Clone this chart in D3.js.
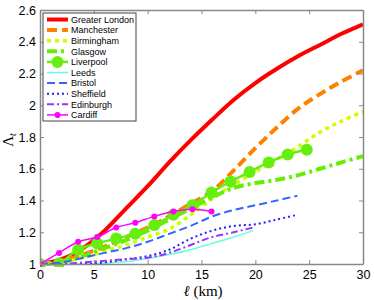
<!DOCTYPE html>
<html>
<head>
<meta charset="utf-8">
<script src="https://cdn.jsdelivr.net/npm/d3@7"></script>
<style>
  body { margin: 0; background: #fff; }
  svg { display: block; }
  text { font-family: "Liberation Sans", Arial, sans-serif; }
</style>
</head>
<body>
<div id="chart"></div>
<script>
var W = 374, H = 300;
var M = {left: 40, right: 11, top: 10, bottom: 36};

// values
var cities = ["Greater London", "Manchester", "Birmingham", "Glasgow", "Liverpool",
              "Leeds", "Bristol", "Sheffield", "Edinburgh", "Cardiff"];
var kmEven = [0, 2, 4, 6, 8, 10, 12, 14, 16, 18, 20, 22, 24, 26, 28, 30];
var kmMarked = [0, 1.77, 3.54, 5.31, 7.08, 8.85, 10.62, 12.39, 14.16, 15.93, 17.7, 19.47, 21.24, 23.01, 24.78];
var kmShort = [0, 2, 4, 6, 8, 10, 12, 14, 16, 18, 19.8];
var kmMid = [0, 2, 4, 6, 8, 10, 12, 14, 16, 18, 20, 22, 23.9];

var london     = [1.0, 1.03, 1.10, 1.21, 1.35, 1.49, 1.64, 1.78, 1.91, 2.035, 2.14, 2.23, 2.31, 2.38, 2.45, 2.51];
var manchester = [1.0, 1.02, 1.06, 1.11, 1.17, 1.23, 1.30, 1.38, 1.46, 1.59, 1.73, 1.86, 1.98, 2.07, 2.15, 2.22];
var birmingham = [1.0, 1.01, 1.04, 1.08, 1.12, 1.17, 1.22, 1.31, 1.41, 1.50, 1.58, 1.66, 1.74, 1.83, 1.90, 1.96];
var glasgow    = [1.0, 1.01, 1.05, 1.10, 1.15, 1.21, 1.28, 1.35, 1.42, 1.48, 1.51, 1.53, 1.56, 1.60, 1.64, 1.68];
var liverpool  = [1.0, 1.005, 1.09, 1.13, 1.16, 1.19, 1.245, 1.31, 1.37, 1.45, 1.52, 1.58, 1.64, 1.69, 1.72];
var leeds      = [1.0, 1.0, 1.0, 1.005, 1.015, 1.035, 1.06, 1.09, 1.13, 1.17, 1.21];
var bristol    = [1.0, 1.01, 1.04, 1.07, 1.10, 1.14, 1.19, 1.24, 1.30, 1.34, 1.37, 1.40, 1.43];
var sheffield  = [1.0, 1.0, 1.0, 1.01, 1.03, 1.05, 1.09, 1.16, 1.21, 1.24, 1.25, 1.28, 1.31];
var edinburgh  = [1.0, 1.0, 1.01, 1.02, 1.03, 1.04, 1.07, 1.12, 1.17, 1.20, 1.23];
var cardiff    = [1.0, 1.07, 1.14, 1.17, 1.23, 1.26, 1.30, 1.33, 1.345, 1.33];

var xTicks = [0, 5, 10, 15, 20, 25, 30];
var yTicks = [1, 1.2, 1.4, 1.6, 1.8, 2, 2.2, 2.4, 2.6];

var series = [
  {km: kmEven, v: london,     color: "#ff0000", width: 4,   dash: null},
  {km: kmEven, v: manchester, color: "#ff8000", width: 4,   dash: "10,5"},
  {km: kmEven, v: birmingham, color: "#ccff00", width: 3.5, dash: "4,4"},
  {km: kmEven, v: glasgow,    color: "#66ee00", width: 4,   dash: "10,4,3,4"},
  {km: kmMarked, v: liverpool, color: "#66ee11", width: 2.5, dash: null, marker: 6},
  {km: kmShort, v: leeds,     color: "#66ffdd", width: 1.5, dash: null},
  {km: kmMid,   v: bristol,   color: "#3366ff", width: 2,   dash: "8,4"},
  {km: kmMid,   v: sheffield, color: "#2222ff", width: 2,   dash: "2,3"},
  {km: kmShort, v: edinburgh, color: "#9933ff", width: 2,   dash: "7,3,2,3"},
  {km: kmMarked.slice(0, 10), v: cardiff, color: "#ff00ff", width: 1.5, dash: null, marker: 3}
];

var svg = d3.select("#chart").append("svg")
  .attr("width", W).attr("height", H);

var x = d3.scaleLinear().domain([0, 30]).range([M.left, W - M.right]);
var y = d3.scaleLinear().domain([1, 2.6]).range([H - M.bottom, M.top]);

svg.append("defs").append("clipPath").attr("id", "plot")
  .append("rect").attr("x", M.left).attr("y", M.top - 3)
  .attr("width", W - M.right - M.left + 3).attr("height", H - M.bottom - M.top + 6);

var line = d3.line()
  .x(function(d){ return x(d[0]); })
  .y(function(d){ return y(d[1]); })
  .curve(d3.curveCatmullRom.alpha(0.5));

var plot = svg.append("g").attr("clip-path", "url(#plot)");

series.forEach(function(s){
  var pts = s.km.map(function(k, i){ return [k, s.v[i]]; });
  plot.append("path")
    .datum(pts)
    .attr("d", line)
    .attr("fill", "none")
    .attr("stroke", s.color)
    .attr("stroke-width", s.width)
    .attr("stroke-dasharray", s.dash)
    .attr("stroke-linejoin", "round");
  if (s.marker) {
    plot.selectAll(null).data(pts).enter().append("circle")
      .attr("cx", function(d){ return x(d[0]); })
      .attr("cy", function(d){ return y(d[1]); })
      .attr("r", s.marker)
      .attr("fill", s.color);
  }
});

// axes box with inward ticks
var axisColor = "#888";
var xAxis = svg.append("g").attr("transform", "translate(0," + (H - M.bottom) + ")")
  .call(d3.axisBottom(x).tickValues(xTicks).tickSizeInner(-4).tickSizeOuter(0).tickPadding(6));
var yAxis = svg.append("g").attr("transform", "translate(" + M.left + ",0)")
  .call(d3.axisLeft(y).tickValues(yTicks).tickSizeInner(-4).tickSizeOuter(0).tickPadding(4)
    .tickFormat(function(d){ return d3.format("")(+d.toFixed(1)); }));
var xTop = svg.append("g").attr("transform", "translate(0," + M.top + ")")
  .call(d3.axisTop(x).tickValues(xTicks).tickSizeInner(-4).tickSizeOuter(0).tickFormat(""));
var yRight = svg.append("g").attr("transform", "translate(" + (W - M.right) + ",0)")
  .call(d3.axisRight(y).tickValues(yTicks).tickSizeInner(-4).tickSizeOuter(0).tickFormat(""));

[xAxis, yAxis, xTop, yRight].forEach(function(g){
  g.selectAll(".domain").attr("stroke", axisColor).attr("stroke-width", 1.5);
  g.selectAll(".tick line").attr("stroke", axisColor);
  g.selectAll("text").attr("fill", "#000").style("font-size", "12.5px")
    .style("font-family", "'Liberation Sans', Arial, sans-serif");
});

// axis labels
svg.append("text")
  .attr("x", 203).attr("y", 296)
  .attr("text-anchor", "middle")
  .style("font-family", "'Liberation Serif', 'DejaVu Serif', serif")
  .style("font-size", "15px")
  .html("<tspan font-style='italic'>ℓ</tspan> (km)");

svg.append("text")
  .attr("transform", "translate(13,140) rotate(-90)")
  .attr("text-anchor", "middle")
  .style("font-family", "'Liberation Serif', 'DejaVu Serif', serif")
  .style("font-size", "15px")
  .html("Λ<tspan font-style='italic' font-size='10px' dy='3'>t</tspan>");

// legend
var lg = svg.append("g");
lg.append("rect")
  .attr("x", 43).attr("y", 13).attr("width", 93).attr("height", 108)
  .attr("fill", "#fff").attr("stroke", "#444").attr("stroke-width", 1);

series.forEach(function(s, i){
  var yy = 19.5 + i * 10.6;
  lg.append("line")
    .attr("x1", 47).attr("x2", 68).attr("y1", yy).attr("y2", yy)
    .attr("stroke", s.color)
    .attr("stroke-width", s.width)
    .attr("stroke-dasharray", s.dash);
  if (s.marker) {
    lg.append("circle").attr("cx", 57.5).attr("cy", yy).attr("r", s.marker).attr("fill", s.color);
  }
  lg.append("text")
    .attr("x", 71).attr("y", yy + 3.2)
    .style("font-size", "9px")
    .text(cities[i]);
});
</script>
</body>
</html>
